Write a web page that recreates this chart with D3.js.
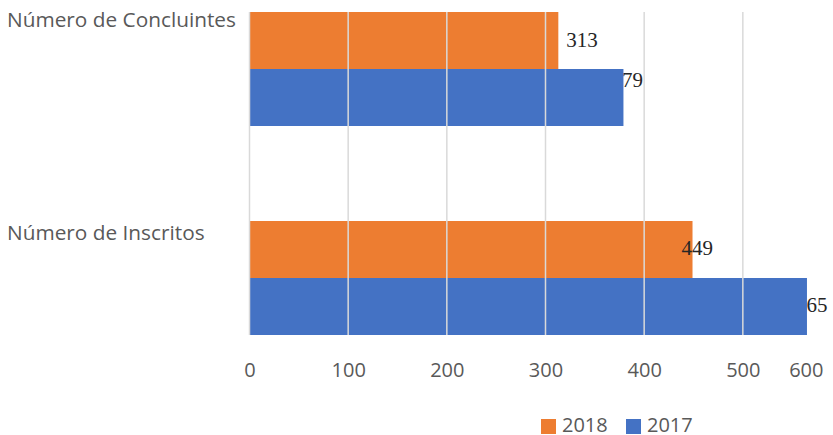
<!DOCTYPE html>
<html>
<head>
<meta charset="utf-8">
<script src="https://cdn.jsdelivr.net/npm/d3@7"></script>
<style>
  html, body { margin: 0; padding: 0; background: #fff; }
  svg { display: block; }
</style>
</head>
<body>
<svg id="chart" width="833" height="435"></svg>
<script>
// Categories and series
const categories = ["Número de Concluintes", "Número de Inscritos"];
const seriesNames = ["2018", "2017"];
const values2018 = [313, 449];
const values2017 = [379, 565];
const tickValues = [0, 100, 200, 300, 400, 500, 600];
const seriesColors = ["#ED7D31", "#4472C4"];

// Data-label nudges relative to the bar end (dx) and bar centre (dy)
const labelNudge2018 = [[8, 6.5], [-11, 5.5]];
const labelNudge2017 = [[-12, -10.5], [-11, 5]];

const svg = d3.select("#chart");
const W = 833;
const plotTop = 12, plotBottom = 335;

const x = d3.scaleLinear().domain([0, 600]).range([249.5, 841.5]);
const y = d3.scaleBand().domain(categories).range([plotTop, plotBottom])
  .paddingInner(95 / 209).paddingOuter(0);
const ys = d3.scaleBand().domain(seriesNames).range([0, y.bandwidth()]);

const rows = categories.map((c, i) => ({
  cat: c,
  v: { "2018": values2018[i], "2017": values2017[i] },
  n: { "2018": labelNudge2018[i], "2017": labelNudge2017[i] }
}));
const color = d3.scaleOrdinal().domain(seriesNames).range(seriesColors);

const labelFont = "'Liberation Serif', 'Times New Roman', serif";
const sansFont = "'Open Sans', 'Noto Sans', sans-serif";

function drawLabels(series, layer) {
  layer.selectAll("text.lab-" + series)
    .data(rows).join("text")
    .attr("class", "lab-" + series)
    .attr("x", d => x(d.v[series]) + d.n[series][0])
    .attr("y", d => y(d.cat) + ys(series) + ys.bandwidth() / 2 + d.n[series][1])
    .attr("font-family", labelFont)
    .attr("font-size", 21)
    .attr("fill", "#262626")
    .text(d => d.v[series]);
}

function drawBars(series, layer) {
  layer.selectAll("rect.bar-" + series)
    .data(rows).join("rect")
    .attr("class", "bar-" + series)
    .attr("x", x(0))
    .attr("y", d => y(d.cat) + ys(series))
    .attr("width", d => x(d.v[series]) - x(0))
    .attr("height", ys.bandwidth())
    .attr("fill", color(series));
}

// 2017 labels sit beneath the 2017 bars; 2018 labels sit on top
drawLabels("2017", svg.append("g"));
drawBars("2017", svg.append("g"));
drawBars("2018", svg.append("g"));

// Vertical gridlines drawn over the bars
svg.append("g").selectAll("line")
  .data(tickValues).join("line")
  .attr("x1", d => x(d)).attr("x2", d => x(d))
  .attr("y1", plotTop).attr("y2", plotBottom)
  .attr("stroke", "#D9D9D9").attr("stroke-width", 1.5);

drawLabels("2018", svg.append("g"));

// Value axis
const xAxis = d3.axisBottom(x).tickValues(tickValues).tickSize(0).tickPadding(0);
const axisG = svg.append("g").attr("transform", "translate(0,377)").call(xAxis);
axisG.select(".domain").remove();
axisG.selectAll("text")
  .attr("y", 0).attr("dy", 0)
  .attr("font-family", sansFont).attr("font-size", 20).attr("fill", "#595959");
// keep the last tick label inside the frame
axisG.selectAll(".tick").each(function(d) {
  const t = d3.select(this).select("text");
  const w = t.node().getComputedTextLength();
  const cx = x(d);
  if (cx + w / 2 > W - 10) t.attr("x", (W - 10 - w / 2) - cx);
});

// Category labels
svg.append("g").selectAll("text")
  .data(categories).join("text")
  .attr("x", 7)
  .attr("y", (d, i) => y(d) + (i === 0 ? 15 : 19))
  .attr("font-family", sansFont).attr("font-size", 20.8).attr("fill", "#595959")
  .text(d => d);

// Legend
const legend = svg.append("g").attr("transform", "translate(541,419)");
const items = legend.selectAll("g").data(seriesNames).join("g")
  .attr("transform", (d, i) => `translate(${i * 85},0)`);
items.append("rect").attr("width", 15).attr("height", 15).attr("fill", d => color(d));
items.append("text").attr("x", 21).attr("y", 12.5)
  .attr("font-family", sansFont).attr("font-size", 20).attr("fill", "#595959")
  .text(d => d);
</script>
</body>
</html>
